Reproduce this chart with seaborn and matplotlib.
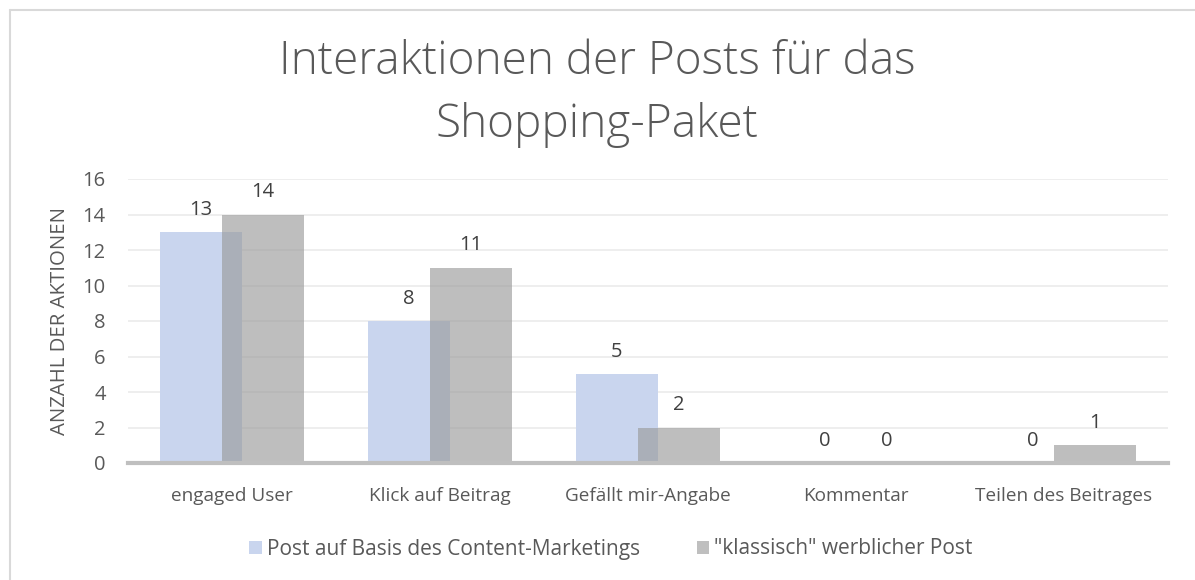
import matplotlib
matplotlib.use("Agg")
import matplotlib.pyplot as plt
import seaborn as sns
import pandas as pd
from matplotlib.lines import Line2D
from matplotlib.patches import Patch

categories = ["engaged User", "Klick auf Beitrag", "Gefällt mir-Angabe", "Kommentar", "Teilen des Beitrages"]
series_names = ["Post auf Basis des Content-Marketings", "\"klassisch\" werblicher Post"]
content_values = [13, 8, 5, 0, 0]
klassisch_values = [14, 11, 2, 0, 1]
y_ticks = [0, 2, 4, 6, 8, 10, 12, 14, 16]

df = pd.DataFrame({
    "Kategorie": categories * 2,
    "Serie": [series_names[0]] * len(categories) + [series_names[1]] * len(categories),
    "Wert": content_values + klassisch_values,
})

sns.set_theme(style="white")
FONT = ["Open Sans", "DejaVu Sans"]
plt.rcParams["font.family"] = FONT
txt = "#595959"

fig = plt.figure(figsize=(11.95, 5.8), dpi=100)
ax = fig.add_axes([128 / 1195, 1 - 463 / 580, 1040 / 1195, (463 - 179) / 580])

blue = "#C9D5EE"
grey_rgba = (0.6, 0.6, 0.6, 0.63)
sns.barplot(data=df, x="Kategorie", y="Wert", hue="Serie", order=categories,
            hue_order=series_names, palette=[blue, "#999999"], dodge=True,
            width=0.6, ax=ax, legend=False, saturation=1, errorbar=None, zorder=2)

bar_w = 0.395
n = len(categories)
for i, p in enumerate(ax.patches[: 2 * n]):
    c = p.get_x() + p.get_width() / 2
    p.set_width(bar_w)
    p.set_x(c - bar_w / 2)
    p.set_edgecolor("none")
    if i >= n:
        p.set_facecolor(grey_rgba)
        p.set_zorder(3)

for cont in ax.containers:
    ax.bar_label(cont, labels=[f"{int(v)}" for v in cont.datavalues], padding=9,
                 fontsize=14.5, color="#404040", family=FONT)

ax.set_ylim(0, 16)
ax.set_xlim(-0.5, n - 0.5)
ax.set_yticks(y_ticks)
ax.set_yticklabels([str(t) for t in y_ticks], fontsize=14.5, color=txt)
ax.tick_params(axis="y", length=0, pad=16)
ax.tick_params(axis="x", length=0, pad=17, labelsize=13.7, labelcolor=txt)
ax.grid(axis="y", color="#EBEBEB", linewidth=1.2, zorder=0)
ax.set_axisbelow(True)
for s in ["top", "right", "left"]:
    ax.spines[s].set_visible(False)
ax.spines["bottom"].set_color("#BFBFBF")
ax.spines["bottom"].set_linewidth(3)
ax.spines["bottom"].set_zorder(4)
ax.set_xlabel("")
ax.set_ylabel("ANZAHL DER AKTIONEN", fontsize=14.7, color=txt, labelpad=9)

fig.text(0.5, 1 - 62 / 580, "Interaktionen der Posts für das", ha="center", va="center",
         fontsize=33, color=txt, fontweight="light")
fig.text(0.5, 1 - 125 / 580, "Shopping-Paket", ha="center", va="center",
         fontsize=33, color=txt, fontweight="light")

handles = [Patch(facecolor=blue, edgecolor="none"), Patch(facecolor="#BFBFBF", edgecolor="none")]
fig.legend(handles, series_names, loc="center", bbox_to_anchor=(611 / 1195, 1 - 549 / 580),
           ncol=2, frameon=False, fontsize=15, labelcolor=txt, handlelength=0.6,
           handleheight=0.6, handletextpad=0.25, columnspacing=2.7)

fig.add_artist(Line2D([10 / 1195, 10 / 1195], [0, 1 - 10 / 580], transform=fig.transFigure,
                      color="#D9D9D9", linewidth=1.5))
fig.add_artist(Line2D([10 / 1195, 1], [1 - 10 / 580, 1 - 10 / 580], transform=fig.transFigure,
                      color="#D9D9D9", linewidth=1.5))

fig.savefig("out.png", dpi=100)
